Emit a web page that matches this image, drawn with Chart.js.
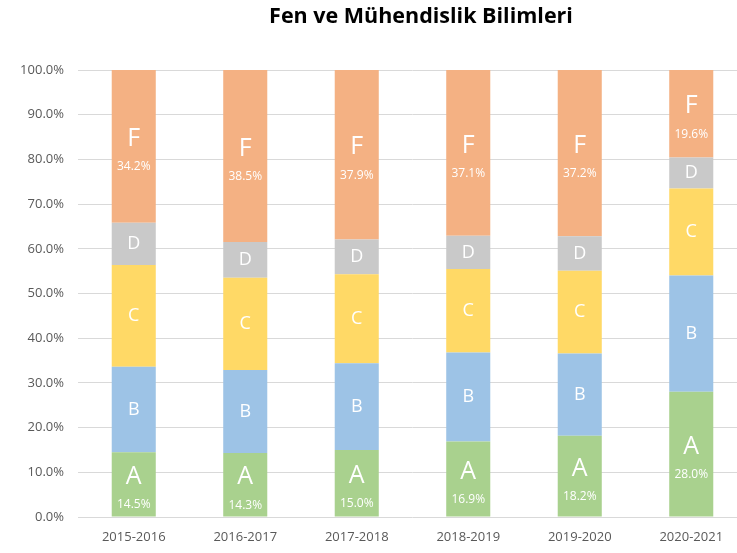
<!DOCTYPE html>
<html>
<head>
<meta charset="utf-8">
<script src="https://cdn.jsdelivr.net/npm/chart.js@4.4.1/dist/chart.umd.min.js"></script>
<style>
  html, body { margin: 0; padding: 0; background: #fff; overflow: hidden; }
  #wrap { position: relative; width: 737px; height: 553px; overflow: hidden; }
  #box { position: absolute; left: 0; top: 0; width: 750px; height: 553px; }
  #title { position: absolute; left: 171px; top: 0px; width: 500px; text-align: center;
           font-family: "Open Sans", sans-serif; font-weight: bold; font-size: 21.5px; color: #000;
           line-height: 30px; }
</style>
</head>
<body>
<div id="wrap">
  <div id="box"><canvas id="c" width="750" height="553"></canvas></div>
  <div id="title">Fen ve Mühendislik Bilimleri</div>
</div>
<script>
const categories = ["2015-2016", "2016-2017", "2017-2018", "2018-2019", "2019-2020", "2020-2021"];
const gradeA = [14.5, 14.3, 15.0, 16.9, 18.2, 28.0];
const gradeB = [19.1, 18.6, 19.4, 19.9, 18.4, 26.0];
const gradeC = [22.8, 20.6, 19.9, 18.7, 18.5, 19.5];
const gradeD = [9.4, 8.0, 7.8, 7.4, 7.7, 6.9];
const gradeF = [34.2, 38.5, 37.9, 37.1, 37.2, 19.6];
const yTicks = [0, 10, 20, 30, 40, 50, 60, 70, 80, 90, 100];

const FONT = '"Open Sans", sans-serif';

const labelPlugin = {
  id: 'segLabels',
  afterDatasetsDraw(chart) {
    const ctx = chart.ctx;
    ctx.save();
    ctx.fillStyle = '#ffffff';
    ctx.textAlign = 'center';
    ctx.textBaseline = 'middle';
    chart.data.datasets.forEach((ds, di) => {
      const meta = chart.getDatasetMeta(di);
      meta.data.forEach((bar, i) => {
        const cy = (bar.y + bar.base) / 2;
        if (ds.showPct) {
          ctx.font = '25px ' + FONT;
          ctx.fillText(ds.label, bar.x, cy - 7.5);
          ctx.font = '12px ' + FONT;
          ctx.fillText(ds.data[i].toFixed(1) + '%', bar.x, cy + 20.5);
        } else {
          ctx.font = '18px ' + FONT;
          ctx.fillText(ds.label, bar.x, cy);
        }
      });
    });
    ctx.restore();
  }
};

new Chart(document.getElementById('c'), {
  type: 'bar',
  data: {
    labels: categories,
    datasets: [
      { label: 'A', data: gradeA, backgroundColor: '#A9D18E', showPct: true },
      { label: 'B', data: gradeB, backgroundColor: '#9DC3E6', showPct: false },
      { label: 'C', data: gradeC, backgroundColor: '#FFD966', showPct: false },
      { label: 'D', data: gradeD, backgroundColor: '#C9C9C9', showPct: false },
      { label: 'F', data: gradeF, backgroundColor: '#F4B183', showPct: true }
    ]
  },
  options: {
    responsive: false,
    animation: false,
    layout: { padding: { top: 70, right: 3, bottom: 0, left: 0 } },
    datasets: { bar: { categoryPercentage: 1.0, barPercentage: 0.395, borderWidth: 0 } },
    plugins: { legend: { display: false }, tooltip: { enabled: false }, title: { display: false } },
    scales: {
      x: {
        stacked: true,
        grid: { display: false, drawTicks: false },
        border: { display: false },
        ticks: { color: '#595959', font: { family: FONT, size: 13 }, padding: 12, maxRotation: 0 },
        afterFit(s) { s.height = 36; }
      },
      y: {
        stacked: true,
        min: 0, max: 100,
        afterBuildTicks(s) { s.ticks = yTicks.map(v => ({ value: v })); },
        grid: { color: '#D9D9D9', lineWidth: 1, drawTicks: false },
        border: { display: false },
        ticks: { color: '#595959', font: { family: FONT, size: 13 }, padding: 14,
                 callback: v => v.toFixed(1) + '%' },
        afterFit(s) { s.width = 78; }
      }
    }
  },
  plugins: [labelPlugin]
});
</script>
</body>
</html>
